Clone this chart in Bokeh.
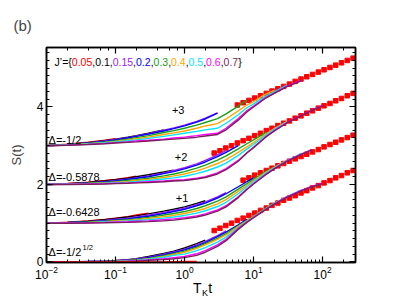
import math
from bokeh.plotting import figure
from bokeh.models import LogAxis, LinearAxis, FixedTicker, LogTicker, Range1d
from bokeh.core.properties import value
from bokeh.embed import file_html
from bokeh.resources import INLINE

# ---------------- data ----------------
T_GRID = [0.01, 0.02, 0.04, 0.07, 0.1, 0.15, 0.2, 0.3, 0.5, 0.7, 1, 1.5, 2, 3, 4, 6, 8,
          10, 15, 20, 30, 50, 70, 100]

J_VALUES = ["0.05", "0.1", "0.15", "0.2", "0.3", "0.4", "0.5", "0.6", "0.7"]
J_COLORS = ["#ff0000", "#000000", "#a020f0", "#0000ff", "#17a017", "#ffa500",
            "#00e5ff", "#ff00ff", "#7a1f5c"]

OFFSETS = [0, 1, 2, 3]
OFFSET_LABELS = ["+1", "+2", "+3"]
DELTA_MAIN = ["\u0394=-1/2", "\u0394=-0.6428", "\u0394=-0.5878", "\u0394=-1/2"]
DELTA_SUP = ["1/2", "", "", ""]

# relative S(t) for each J' (red, black, purple, blue, green, orange, cyan, magenta, maroon)
G0 = [
    [0, 0, 0, 0, 0, 0, 0, 0, 0, 0.005, 0.01, 0.01],
    [0, 0.005, 0.01, 0.02, 0.035, 0.06, 0.085, 0.14, 0.22, 0.28, 0.36, 0.47, 0.56],
    [0, 0.005, 0.01, 0.02, 0.03, 0.05, 0.075, 0.12, 0.20, 0.26, 0.33, 0.44, 0.53, 0.68, 0.80],
    [0, 0, 0.01, 0.015, 0.025, 0.045, 0.065, 0.11, 0.18, 0.24, 0.31, 0.41, 0.50, 0.65, 0.77, 0.96, 1.10],
    [0, 0, 0.005, 0.01, 0.02, 0.035, 0.055, 0.09, 0.16, 0.21, 0.28, 0.38, 0.47, 0.61, 0.73, 0.93, 1.07, 1.18, 1.38, 1.52],
    [0, 0, 0.005, 0.01, 0.015, 0.03, 0.045, 0.08, 0.14, 0.19, 0.25, 0.35, 0.44, 0.58, 0.70, 0.91, 1.06, 1.17, 1.37, 1.51, 1.68],
    [0, 0, 0, 0.005, 0.01, 0.025, 0.04, 0.07, 0.12, 0.17, 0.20, 0.29, 0.37, 0.51, 0.64, 0.88, 1.04, 1.16, 1.37, 1.51, 1.68, 1.86],
    [0, 0, 0, 0.005, 0.01, 0.02, 0.03, 0.05, 0.08, 0.11, 0.14, 0.21, 0.29, 0.44, 0.58, 0.86, 1.03, 1.15, 1.36, 1.50, 1.67, 1.85, 1.95, 2.03],
    [0, 0, 0, 0, 0.005, 0.01, 0.02, 0.04, 0.06, 0.08, 0.11, 0.17, 0.25, 0.40, 0.55, 0.84, 1.02, 1.14, 1.35, 1.49, 1.66, 1.84, 1.94, 2.02],
]
G1 = [
    [0, 0.025, 0.055, 0.095, 0.13, 0.17, 0.21, 0.26],
    [0, 0.02, 0.05, 0.09, 0.12, 0.16, 0.19, 0.24, 0.31, 0.36, 0.42, 0.51, 0.58],
    [0, 0.015, 0.04, 0.07, 0.10, 0.13, 0.16, 0.21, 0.28, 0.33, 0.39, 0.48, 0.55, 0.68, 0.79],
    [0, 0.015, 0.035, 0.06, 0.085, 0.11, 0.14, 0.18, 0.25, 0.30, 0.36, 0.45, 0.52, 0.65, 0.76, 0.94, 1.07, 1.17],
    [0, 0.01, 0.03, 0.05, 0.07, 0.09, 0.11, 0.15, 0.21, 0.25, 0.30, 0.38, 0.45, 0.57, 0.68, 0.88, 1.02, 1.13, 1.33, 1.45],
    [0, 0.01, 0.02, 0.04, 0.055, 0.07, 0.09, 0.12, 0.17, 0.20, 0.25, 0.32, 0.38, 0.50, 0.61, 0.82, 0.98, 1.10, 1.31, 1.44, 1.62],
    [0, 0.01, 0.015, 0.03, 0.04, 0.055, 0.07, 0.09, 0.13, 0.16, 0.20, 0.26, 0.32, 0.43, 0.54, 0.76, 0.94, 1.07, 1.29, 1.43, 1.61, 1.80],
    [0, 0.005, 0.01, 0.02, 0.03, 0.04, 0.05, 0.06, 0.09, 0.11, 0.14, 0.19, 0.24, 0.34, 0.45, 0.68, 0.88, 1.02, 1.26, 1.41, 1.60, 1.79, 1.90],
    [0, 0, 0.005, 0.01, 0.015, 0.02, 0.03, 0.04, 0.06, 0.08, 0.11, 0.16, 0.21, 0.31, 0.42, 0.66, 0.87, 1.01, 1.25, 1.40, 1.59, 1.78, 1.89],
]
G2 = [
    [0, 0.025, 0.055, 0.10, 0.13, 0.175, 0.215],
    [0, 0.02, 0.05, 0.09, 0.12, 0.16, 0.20, 0.25, 0.32, 0.37],
    [0, 0.015, 0.04, 0.07, 0.10, 0.14, 0.17, 0.22, 0.30, 0.36, 0.43, 0.53, 0.62, 0.76, 0.87],
    [0, 0.015, 0.035, 0.065, 0.09, 0.13, 0.16, 0.20, 0.28, 0.33, 0.40, 0.50, 0.58, 0.72, 0.83, 1.00],
    [0, 0.01, 0.03, 0.05, 0.07, 0.10, 0.12, 0.16, 0.22, 0.27, 0.33, 0.42, 0.50, 0.63, 0.74, 0.92, 1.05, 1.15, 1.34],
    [0, 0.01, 0.025, 0.04, 0.06, 0.08, 0.10, 0.13, 0.18, 0.22, 0.27, 0.35, 0.42, 0.54, 0.64, 0.83, 0.97, 1.08, 1.30, 1.44, 1.62],
    [0, 0.01, 0.02, 0.03, 0.045, 0.06, 0.075, 0.10, 0.14, 0.17, 0.21, 0.28, 0.34, 0.45, 0.55, 0.75, 0.91, 1.03, 1.27, 1.42, 1.61],
    [0, 0.005, 0.01, 0.02, 0.03, 0.04, 0.05, 0.07, 0.09, 0.11, 0.12, 0.16, 0.20, 0.30, 0.41, 0.62, 0.82, 0.96, 1.23, 1.39, 1.59, 1.79, 1.92, 2.04],
    [0, 0, 0.005, 0.01, 0.02, 0.03, 0.04, 0.05, 0.07, 0.09, 0.10, 0.14, 0.18, 0.27, 0.38, 0.60, 0.81, 0.95, 1.22, 1.38, 1.58, 1.78, 1.91, 2.03],
]
G3 = [
    [0, 0.04, 0.09, 0.14, 0.18],
    [0, 0.035, 0.08, 0.13, 0.17, 0.22, 0.26, 0.32, 0.41],
    [0, 0.03, 0.07, 0.12, 0.16, 0.21, 0.25, 0.31, 0.40, 0.46, 0.53, 0.63, 0.71, 0.85],
    [0, 0.03, 0.065, 0.11, 0.15, 0.20, 0.24, 0.30, 0.38, 0.44, 0.51, 0.61, 0.69, 0.84],
    [0, 0.025, 0.06, 0.10, 0.13, 0.17, 0.21, 0.26, 0.34, 0.39, 0.45, 0.53, 0.60, 0.70, 0.82, 1.02, 1.18],
    [0, 0.02, 0.05, 0.085, 0.11, 0.15, 0.18, 0.22, 0.29, 0.33, 0.38, 0.45, 0.51, 0.57, 0.69, 0.90, 1.05, 1.14, 1.33, 1.43],
    [0, 0.02, 0.045, 0.075, 0.10, 0.13, 0.15, 0.19, 0.24, 0.28, 0.32, 0.37, 0.41, 0.45, 0.58, 0.80, 0.98, 1.08, 1.28, 1.39, 1.56],
    [0, 0.015, 0.035, 0.06, 0.08, 0.10, 0.12, 0.14, 0.17, 0.20, 0.22, 0.26, 0.29, 0.32, 0.45, 0.70, 0.90, 1.02, 1.24, 1.36, 1.53, 1.69],
    [0, 0.01, 0.03, 0.05, 0.07, 0.09, 0.10, 0.12, 0.15, 0.17, 0.19, 0.22, 0.25, 0.29, 0.41, 0.66, 0.87, 1.00, 1.23, 1.35, 1.52, 1.68],
]
GROUPS = [G0, G1, G2, G3]

# asymptotic (red squares)
SQ_T = [2.69, 3.26, 3.96, 4.80, 5.82, 7.06, 8.57, 10.4, 12.6, 15.3, 18.5, 22.5, 27.3,
        33.1, 40.1, 48.7, 59.0, 71.6, 86.9, 105, 128, 155, 188, 228, 277]
SQ_G0 = [0.81, 0.87, 0.94, 1.00, 1.07, 1.13, 1.20, 1.26, 1.33, 1.39, 1.46, 1.52, 1.59,
         1.65, 1.71, 1.78, 1.84, 1.91, 1.97, 2.04, 2.10, 2.17, 2.23, 2.30, 2.36]
SQ_G1 = [1.11, 1.17, 1.24, 1.30, 1.36, 1.42, 1.48, 1.54,
         1.60, 1.66, 1.72, 1.78, 1.84, 1.90, 1.97, 2.03, 2.09, 2.15, 2.21, 2.27]
SQ_G2 = [0.81, 0.87, 0.94, 1.00, 1.07, 1.13, 1.19, 1.26, 1.32, 1.39, 1.45, 1.52, 1.58,
         1.64, 1.71, 1.77, 1.84, 1.90, 1.97, 2.03, 2.09, 2.16, 2.22, 2.29, 2.35]
SQ_G3 = [1.05, 1.11, 1.17, 1.23, 1.29, 1.35, 1.41, 1.47, 1.53,
         1.59, 1.66, 1.72, 1.78, 1.84, 1.90, 1.96, 2.02, 2.08, 2.14, 2.20, 2.26]
SQUARES = [SQ_G0, SQ_G1, SQ_G2, SQ_G3]

# ---------------- figure ----------------
FONT = "Liberation Sans"
p = figure(width=399, height=300, x_axis_type="log",
           x_range=Range1d(0.01, 300), y_range=Range1d(-0.015, 5.535),
           output_backend="svg", toolbar_location=None, title="(b)",
           min_border_left=46, min_border_right=44, min_border_top=47, min_border_bottom=38)
p.grid.visible = False
p.outline_line_color = "black"
p.outline_line_width = 1.5
p.background_fill_color = "white"
p.border_fill_color = "white"

p.title.align = "left"
p.title.offset = -33
p.title.text_font = FONT
p.title.text_font_size = "15px"
p.title.text_font_style = "normal"
p.title.standoff = 27

y_ticker = FixedTicker(ticks=[0, 2, 4], minor_ticks=[round(0.2 * i, 2) for i in range(0, 28)])


def style_axis(ax, labels=True):
    ax.axis_line_width = 1.5
    ax.axis_line_color = "black"
    ax.major_tick_in = 6
    ax.major_tick_out = 0
    ax.minor_tick_in = 3
    ax.minor_tick_out = 0
    ax.major_tick_line_width = 1.2
    ax.minor_tick_line_width = 1.0
    ax.major_label_text_font = FONT
    ax.major_label_text_font_size = "12px" if labels else "1px"
    ax.major_label_text_color = "black"
    ax.major_label_standoff = 3 if labels else 0
    if not labels:
        ax.major_label_text_alpha = 0.0


xb = p.xaxis[0]
style_axis(xb)
yl = p.yaxis[0]
yl.ticker = y_ticker
style_axis(yl)
yl.axis_label = "S(t)"
yl.axis_label_text_font = FONT
yl.axis_label_text_font_size = "13px"
yl.axis_label_text_font_style = "normal"
yl.axis_label_standoff = 10

xt = LogAxis(ticker=LogTicker())
style_axis(xt, labels=False)
p.add_layout(xt, "above")
yr = LinearAxis(ticker=y_ticker)
style_axis(yr, labels=False)
p.add_layout(yr, "right")

# x-axis title "T_K t" built from two label-only axes (main letters, then subscript)
XT_POS = [1.53, 2.36]
XK_POS = [1.98]


def label_axis(ticks, texts, size, standoff):
    ax = LinearAxis(ticker=FixedTicker(ticks=ticks, minor_ticks=[]))
    ax.axis_line_color = None
    ax.major_tick_line_color = None
    ax.minor_tick_line_color = None
    ax.major_tick_in = 0
    ax.major_tick_out = 0
    ax.major_label_overrides = {t: s for t, s in zip(ticks, texts)}
    ax.major_label_text_font = FONT
    ax.major_label_text_font_size = size
    ax.major_label_text_color = "black"
    ax.major_label_standoff = standoff
    return ax


p.add_layout(label_axis(XT_POS, ["T", "t"], "14px", -2), "below")
p.add_layout(label_axis(XK_POS, ["K"], "9px", -11), "below")

# squares first, curves over them
SQ_START = [0, 5, 0, 4]
for off, sq, s0 in zip(OFFSETS, SQUARES, SQ_START):
    p.scatter(SQ_T[s0:], [off + v for v in sq], marker="square", size=4.5,
              fill_color="#ff0000", line_color="#ff0000")

for gi, (off, grp) in enumerate(zip(OFFSETS, GROUPS)):
    order = list(range(9))
    if gi == 0:
        order = order[1:] + [0]
    for k in order:
        ys = grp[k]
        p.line(T_GRID[:len(ys)], [off + v for v in ys], line_color=J_COLORS[k], line_width=1.4)

# Delta labels
DELTA_Y = [0.245, 1.28, 2.18, 3.16]
p.text(x=[0.0107] * 4, y=DELTA_Y, text=DELTA_MAIN, text_font=value(FONT),
       text_font_size="11px", text_baseline="middle", text_align="left", text_color="black")
p.text(x=[0.0107], y=[DELTA_Y[0]], text=[DELTA_SUP[0]], x_offset=[34], y_offset=[-5],
       text_font=value(FONT), text_font_size="7.5px", text_baseline="middle",
       text_align="left", text_color="black")

# offset labels
p.text(x=[0.92, 0.89, 0.81], y=[1.64, 2.72, 3.91], text=OFFSET_LABELS, text_font=value(FONT),
       text_font_size="11px", text_baseline="middle", text_align="center", text_color="black")

# J' legend line with coloured values
W = {"0": 0.556, "1": 0.556, "2": 0.556, "3": 0.556, "4": 0.556, "5": 0.556, "6": 0.556,
     "7": 0.556, "8": 0.556, "9": 0.556, ".": 0.278, ",": 0.278, "{": 0.334, "}": 0.334,
     "J": 0.5, "\u2019": 0.222, "=": 0.584}
LSIZE = 10.5
pieces, colors = ["J\u2019={"], ["black"]
for i, (jv, jc) in enumerate(zip(J_VALUES, J_COLORS)):
    if i > 0:
        pieces.append(",")
        colors.append("black")
    pieces.append(jv)
    colors.append(jc)
pieces.append("}")
colors.append("black")
offs, acc = [], 0.0
for s in pieces:
    offs.append(acc)
    acc += sum(W.get(c, 0.556) for c in s) * LSIZE
p.text(x=[0.0131] * len(pieces), y=[5.15] * len(pieces), text=pieces, x_offset=offs,
       text_color=colors, text_font=value(FONT), text_font_size=f"{LSIZE}px",
       text_baseline="middle", text_align="left")

open("out.html", "w").write(file_html(p, INLINE))
